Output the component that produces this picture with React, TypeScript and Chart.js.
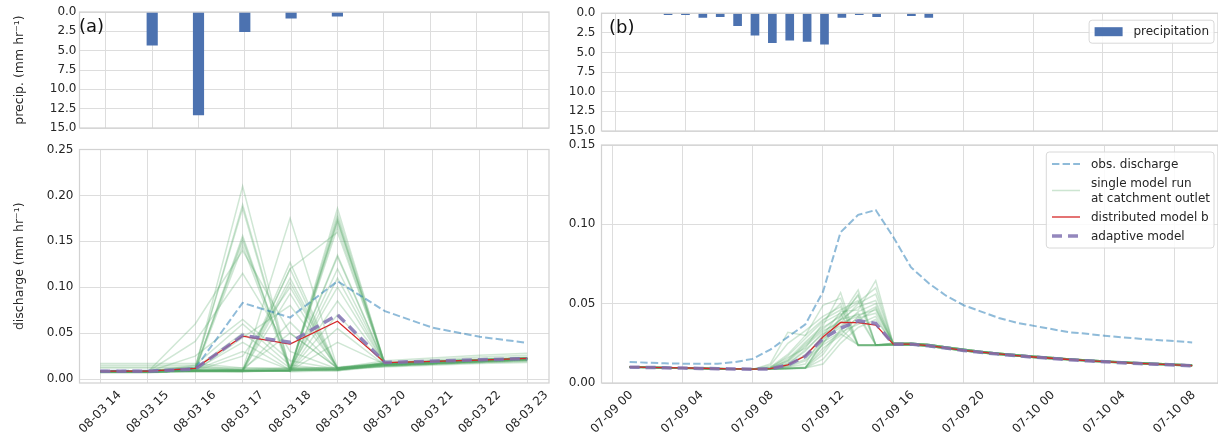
import React, { useEffect, useRef } from "react";
import { Chart, registerables } from "chart.js";

Chart.register(...registerables);

// ---------------- panel (a) data ----------------
const aTickPositions = [0, 1, 2, 3, 4, 5, 6, 7, 8, 9];
const aTickLabels = ["08-03 14", "08-03 15", "08-03 16", "08-03 17", "08-03 18", "08-03 19", "08-03 20", "08-03 21", "08-03 22", "08-03 23"];
const aHours = [0, 1, 2, 3, 4, 5, 6, 7, 8, 9];
const aPrecipPositions = [1, 2, 3, 4, 5];
const aPrecip = [4.3, 13.3, 2.55, 0.8, 0.55];
const aObs = [0.009, 0.009, 0.0115, 0.083, 0.067, 0.1065, 0.074, 0.056, 0.046, 0.0395];
const aDistributed = [0.0087, 0.0087, 0.0116, 0.0467, 0.038, 0.063, 0.0178, 0.0192, 0.0207, 0.0225];
const aAdaptive = [0.0085, 0.0085, 0.011, 0.0475, 0.04, 0.07, 0.018, 0.0195, 0.021, 0.0222];
const aRuns = [
  [0.008, 0.008, 0.012, 0.21, 0.01, 0.01, 0.016, 0.018, 0.02, 0.022],
  [0.008, 0.008, 0.012, 0.19, 0.011, 0.012, 0.017, 0.019, 0.021, 0.023],
  [0.009, 0.009, 0.013, 0.186, 0.009, 0.011, 0.015, 0.017, 0.019, 0.021],
  [0.008, 0.008, 0.01, 0.156, 0.009, 0.01, 0.016, 0.018, 0.02, 0.022],
  [0.008, 0.008, 0.01, 0.153, 0.01, 0.009, 0.015, 0.017, 0.019, 0.021],
  [0.009, 0.009, 0.011, 0.15, 0.012, 0.01, 0.017, 0.019, 0.021, 0.023],
  [0.007, 0.007, 0.009, 0.145, 0.008, 0.009, 0.014, 0.016, 0.018, 0.02],
  [0.008, 0.008, 0.06, 0.14, 0.05, 0.012, 0.018, 0.02, 0.022, 0.024],
  [0.008, 0.008, 0.041, 0.115, 0.03, 0.011, 0.016, 0.018, 0.02, 0.022],
  [0.008, 0.008, 0.025, 0.065, 0.02, 0.011, 0.016, 0.018, 0.02, 0.022],
  [0.008, 0.008, 0.015, 0.06, 0.015, 0.01, 0.015, 0.017, 0.019, 0.021],
  [0.009, 0.009, 0.012, 0.05, 0.012, 0.012, 0.017, 0.019, 0.021, 0.023],
  [0.008, 0.008, 0.01, 0.04, 0.01, 0.01, 0.016, 0.018, 0.02, 0.022],
  [0.008, 0.008, 0.01, 0.03, 0.01, 0.01, 0.015, 0.017, 0.019, 0.021],
  [0.008, 0.008, 0.009, 0.01, 0.175, 0.012, 0.016, 0.018, 0.02, 0.022],
  [0.008, 0.008, 0.009, 0.009, 0.127, 0.011, 0.017, 0.019, 0.021, 0.023],
  [0.008, 0.008, 0.009, 0.009, 0.12, 0.01, 0.015, 0.017, 0.019, 0.021],
  [0.009, 0.009, 0.01, 0.01, 0.11, 0.012, 0.016, 0.018, 0.02, 0.022],
  [0.007, 0.007, 0.008, 0.008, 0.105, 0.011, 0.014, 0.016, 0.018, 0.02],
  [0.008, 0.008, 0.009, 0.025, 0.1, 0.012, 0.016, 0.018, 0.02, 0.022],
  [0.008, 0.008, 0.009, 0.009, 0.093, 0.01, 0.016, 0.018, 0.02, 0.022],
  [0.008, 0.008, 0.009, 0.045, 0.08, 0.013, 0.017, 0.019, 0.021, 0.023],
  [0.008, 0.008, 0.009, 0.009, 0.062, 0.011, 0.016, 0.018, 0.02, 0.022],
  [0.009, 0.009, 0.01, 0.011, 0.05, 0.012, 0.017, 0.019, 0.021, 0.023],
  [0.008, 0.008, 0.009, 0.009, 0.009, 0.186, 0.016, 0.018, 0.02, 0.022],
  [0.008, 0.008, 0.009, 0.009, 0.01, 0.18, 0.017, 0.019, 0.021, 0.023],
  [0.008, 0.008, 0.009, 0.009, 0.009, 0.176, 0.016, 0.018, 0.02, 0.022],
  [0.008, 0.008, 0.009, 0.008, 0.009, 0.174, 0.015, 0.017, 0.019, 0.021],
  [0.009, 0.009, 0.01, 0.01, 0.012, 0.172, 0.016, 0.018, 0.02, 0.022],
  [0.008, 0.008, 0.009, 0.009, 0.009, 0.17, 0.017, 0.019, 0.021, 0.023],
  [0.007, 0.007, 0.008, 0.008, 0.01, 0.165, 0.015, 0.017, 0.019, 0.021],
  [0.008, 0.008, 0.009, 0.009, 0.12, 0.16, 0.016, 0.018, 0.02, 0.022],
  [0.008, 0.008, 0.009, 0.009, 0.009, 0.135, 0.016, 0.018, 0.02, 0.022],
  [0.008, 0.008, 0.009, 0.009, 0.009, 0.133, 0.016, 0.018, 0.02, 0.022],
  [0.008, 0.008, 0.009, 0.009, 0.01, 0.12, 0.017, 0.019, 0.021, 0.023],
  [0.008, 0.008, 0.009, 0.009, 0.009, 0.11, 0.016, 0.018, 0.02, 0.022],
  [0.009, 0.009, 0.01, 0.01, 0.011, 0.1, 0.016, 0.018, 0.02, 0.022],
  [0.008, 0.008, 0.009, 0.009, 0.009, 0.085, 0.017, 0.019, 0.021, 0.023],
  [0.008, 0.008, 0.009, 0.009, 0.009, 0.07, 0.016, 0.018, 0.02, 0.022],
  [0.008, 0.008, 0.009, 0.009, 0.009, 0.055, 0.015, 0.017, 0.019, 0.021],
  [0.008, 0.008, 0.009, 0.009, 0.009, 0.04, 0.016, 0.018, 0.02, 0.022],
  [0.017, 0.017, 0.017, 0.012, 0.011, 0.012, 0.02, 0.023, 0.026, 0.028],
  [0.015, 0.015, 0.015, 0.01, 0.01, 0.011, 0.013, 0.015, 0.017, 0.018],
  [0.013, 0.013, 0.013, 0.009, 0.009, 0.01, 0.018, 0.021, 0.024, 0.026],
  [0.012, 0.012, 0.012, 0.012, 0.012, 0.012, 0.014, 0.016, 0.018, 0.019],
];

// ---------------- panel (b) data ----------------
const bTickPositions = [0, 4, 8, 12, 16, 20, 24, 28, 32];
const bTickLabels = ["07-09 00", "07-09 04", "07-09 08", "07-09 12", "07-09 16", "07-09 20", "07-10 00", "07-10 04", "07-10 08"];
const bPrecipPositions = [3, 4, 5, 6, 7, 8, 9, 10, 11, 12, 13, 14, 15, 17, 18];
const bPrecip = [0.2, 0.2, 0.55, 0.45, 1.6, 2.8, 3.75, 3.45, 3.6, 3.95, 0.55, 0.2, 0.45, 0.3, 0.55];
const bHours = [1, 2, 3, 4, 5, 6, 7, 8, 9, 10, 11, 12, 13, 14, 15, 16, 17, 18, 19, 20, 21, 22, 23, 24, 25, 26, 27, 28, 29, 30, 31, 32, 33];
const bObs = [0.0133, 0.0128, 0.0124, 0.0122, 0.0121, 0.0121, 0.0132, 0.0152, 0.021, 0.029, 0.037, 0.0575, 0.095, 0.106, 0.109, 0.092, 0.073, 0.063, 0.055, 0.049, 0.045, 0.041, 0.038, 0.036, 0.034, 0.032, 0.031, 0.0298, 0.0288, 0.0279, 0.0271, 0.0264, 0.0256];
const bDistributed = [0.0101, 0.0099, 0.0097, 0.0095, 0.0093, 0.0091, 0.0089, 0.0088, 0.009, 0.0114, 0.0172, 0.029, 0.0382, 0.038, 0.0365, 0.0245, 0.0245, 0.0236, 0.0221, 0.0206, 0.0194, 0.0183, 0.0173, 0.0164, 0.0156, 0.0148, 0.0141, 0.0135, 0.0129, 0.0124, 0.0119, 0.0114, 0.011];
const bAdaptive = [0.01, 0.0098, 0.0096, 0.0094, 0.0092, 0.009, 0.0088, 0.0087, 0.0089, 0.0113, 0.0168, 0.028, 0.0345, 0.0392, 0.0376, 0.0245, 0.0245, 0.0235, 0.022, 0.0205, 0.0193, 0.0182, 0.0172, 0.0163, 0.0155, 0.0147, 0.014, 0.0134, 0.0128, 0.0123, 0.0118, 0.0113, 0.0109];
// single runs: hours 1-8, hours 9-15, hours 16-33
const bRunStart = [
  [0.0102, 0.0099, 0.0097, 0.0095, 0.0093, 0.0091, 0.0089, 0.0088],
  [0.0099, 0.0097, 0.0095, 0.0093, 0.0091, 0.0089, 0.0087, 0.0086],
];
const bRunPeak = [
  [0.009, 0.01, 0.012, 0.03, 0.045, 0.046, 0.0645],
  [0.0095, 0.014, 0.025, 0.035, 0.042, 0.0586, 0.024],
  [0.01, 0.018, 0.03, 0.049, 0.0535, 0.0235, 0.0235],
  [0.0092, 0.012, 0.02, 0.032, 0.04, 0.056, 0.024],
  [0.0088, 0.0095, 0.01, 0.025, 0.038, 0.05, 0.056],
  [0.011, 0.025, 0.033, 0.042, 0.048, 0.0236, 0.0236],
  [0.009, 0.011, 0.018, 0.028, 0.035, 0.045, 0.05],
  [0.0089, 0.0092, 0.0096, 0.022, 0.03, 0.042, 0.048],
  [0.01, 0.016, 0.022, 0.038, 0.044, 0.024, 0.024],
  [0.012, 0.032, 0.03, 0.04, 0.046, 0.052, 0.024],
  [0.0088, 0.0092, 0.0095, 0.018, 0.033, 0.041, 0.044],
  [0.009, 0.013, 0.023, 0.033, 0.038, 0.042, 0.024],
  [0.0089, 0.0091, 0.0094, 0.025, 0.042, 0.055, 0.024],
  [0.0093, 0.015, 0.026, 0.036, 0.057, 0.024, 0.024],
  [0.0088, 0.009, 0.0095, 0.015, 0.028, 0.039, 0.047],
  [0.0091, 0.011, 0.017, 0.03, 0.04, 0.048, 0.052],
  [0.009, 0.012, 0.021, 0.031, 0.036, 0.044, 0.024],
  [0.0089, 0.0093, 0.01, 0.02, 0.034, 0.024, 0.024],
  [0.0092, 0.014, 0.024, 0.034, 0.043, 0.051, 0.06],
  [0.0088, 0.009, 0.0093, 0.027, 0.04, 0.043, 0.046],
  [0.009, 0.0105, 0.015, 0.026, 0.032, 0.037, 0.042],
  [0.0094, 0.017, 0.028, 0.039, 0.05, 0.024, 0.024],
  [0.0088, 0.0091, 0.0094, 0.012, 0.025, 0.035, 0.04],
  [0.009, 0.01, 0.014, 0.024, 0.031, 0.024, 0.024],
];
const bRunTail = [
  [0.0245, 0.0246, 0.0237, 0.0222, 0.0207, 0.0195, 0.0184, 0.0174, 0.0165, 0.0157, 0.0149, 0.0142, 0.0136, 0.013, 0.0125, 0.012, 0.0115, 0.0111],
  [0.025, 0.0251, 0.0242, 0.0227, 0.0212, 0.0199, 0.0188, 0.0178, 0.0169, 0.016, 0.0152, 0.0145, 0.0139, 0.0133, 0.0128, 0.0123, 0.0118, 0.0114],
  [0.024, 0.0241, 0.0232, 0.0217, 0.0203, 0.0191, 0.018, 0.017, 0.0161, 0.0153, 0.0146, 0.0139, 0.0133, 0.0127, 0.0122, 0.0117, 0.0112, 0.0108],
];

const precipTicks = [0, 2.5, 5, 7.5, 10, 12.5, 15];
const aDischargeTicks = [0, 0.05, 0.1, 0.15, 0.2, 0.25];
const bDischargeTicks = [0, 0.05, 0.1, 0.15];

// ---------------- styles ----------------
const W = 1218;
const H = 436;
const FONT = '"DejaVu Sans", "Liberation Sans", sans-serif';
const TEXT = "#262626";
const GRID = "#dddddd";
const SPINE = "#d2d2d2";
const BAR = "#4c72b0";
const OBS = "rgba(31,119,180,0.5)";
const RUN = "rgba(85,168,104,0.28)";
const RED = "#d62728";
const PURPLE = "rgba(129,114,178,0.85)";
const OBS_DASH = [7.4, 3.2];
const PURPLE_DASH = [10, 6];

// ---------------- plugins ----------------
const framePlugin = {
  id: "frame",
  afterDraw(chart: any) {
    const a = chart.chartArea;
    const ctx = chart.ctx;
    ctx.save();
    ctx.strokeStyle = SPINE;
    ctx.lineWidth = 1.25;
    ctx.strokeRect(a.left, a.top, a.right - a.left, a.bottom - a.top);
    ctx.restore();
  },
};

const rotTicksPlugin = {
  id: "rotTicks",
  afterDraw(chart: any, _args: any, opts: any) {
    if (!opts || !opts.labels) return;
    const sc = chart.scales.x;
    const ctx = chart.ctx;
    ctx.save();
    ctx.font = `${opts.size}px ${FONT}`;
    ctx.fillStyle = TEXT;
    ctx.textAlign = "center";
    ctx.textBaseline = "middle";
    const c = Math.SQRT1_2;
    opts.positions.forEach((p: number, i: number) => {
      const text = opts.labels[i];
      const x = sc.getPixelForValue(p);
      const w = ctx.measureText(text).width;
      const bh = (w + opts.size * 0.75) * c;
      ctx.save();
      ctx.translate(x, chart.chartArea.bottom + opts.gap + bh / 2);
      ctx.rotate(-Math.PI / 4);
      ctx.fillText(text, 0, 0);
      ctx.restore();
    });
    ctx.restore();
  },
};

const panelLabelPlugin = {
  id: "panelLabel",
  afterDraw(chart: any, _args: any, opts: any) {
    if (!opts || !opts.text) return;
    const a = chart.chartArea;
    const ctx = chart.ctx;
    ctx.save();
    ctx.font = `18px ${FONT}`;
    ctx.fillStyle = "#111";
    ctx.textAlign = "left";
    ctx.textBaseline = "middle";
    ctx.fillText(opts.text, a.left + opts.dx, a.top + opts.dy);
    ctx.restore();
  },
};

const boxLegendPlugin = {
  id: "boxLegend",
  afterDraw(chart: any, _args: any, opts: any) {
    if (!opts || !opts.items) return;
    const ctx = chart.ctx;
    const a = chart.chartArea;
    ctx.save();
    ctx.font = `${opts.size}px ${FONT}`;
    let maxW = 0;
    let total = 0;
    opts.items.forEach((it: any, i: number) => {
      const lines = it.text.split("\n");
      lines.forEach((ln: string) => { maxW = Math.max(maxW, ctx.measureText(ln).width); });
      total += lines.length * opts.lineHeight + (i > 0 ? opts.rowGap : 0);
    });
    const width = opts.textX + maxW + opts.padRight;
    const height = total + opts.pad * 2;
    const right = a.right - opts.marginRight;
    const left = right - width;
    const top = a.top + opts.marginTop;
    const r = 3;
    ctx.beginPath();
    ctx.moveTo(left + r, top);
    ctx.lineTo(right - r, top);
    ctx.arcTo(right, top, right, top + r, r);
    ctx.lineTo(right, top + height - r);
    ctx.arcTo(right, top + height, right - r, top + height, r);
    ctx.lineTo(left + r, top + height);
    ctx.arcTo(left, top + height, left, top + height - r, r);
    ctx.lineTo(left, top + r);
    ctx.arcTo(left, top, left + r, top, r);
    ctx.closePath();
    ctx.fillStyle = "rgba(255,255,255,0.85)";
    ctx.fill();
    ctx.strokeStyle = "#d8d8d8";
    ctx.lineWidth = 1;
    ctx.stroke();
    let y = top + opts.pad;
    opts.items.forEach((it: any) => {
      const lines = it.text.split("\n");
      const rowH = lines.length * opts.lineHeight;
      const cy = y + rowH / 2;
      const sx = left + opts.sampleX;
      if (it.kind === "bar") {
        ctx.fillStyle = it.color;
        ctx.fillRect(sx, cy - 4.5, opts.sampleLen, 9);
      } else {
        ctx.strokeStyle = it.color;
        ctx.lineWidth = it.width;
        ctx.setLineDash(it.dash || []);
        ctx.beginPath();
        ctx.moveTo(sx, cy);
        ctx.lineTo(sx + opts.sampleLen, cy);
        ctx.stroke();
        ctx.setLineDash([]);
      }
      ctx.fillStyle = TEXT;
      ctx.textAlign = "left";
      ctx.textBaseline = "middle";
      lines.forEach((ln: string, k: number) => {
        ctx.fillText(ln, left + opts.textX, y + opts.lineHeight * (k + 0.5) + 0.5);
      });
      y += rowH + opts.rowGap;
    });
    ctx.restore();
  },
};

// ---------------- scale helpers ----------------
function xScale(min: number, max: number, ticks: number[]) {
  return {
    type: "linear",
    min,
    max,
    offset: false,
    bounds: "data",
    afterBuildTicks: (s: any) => { s.ticks = ticks.map((v) => ({ value: v })); },
    ticks: { display: false },
    grid: { color: GRID, lineWidth: 1, drawTicks: false, offset: false },
    border: { display: false },
    afterFit: (s: any) => { s.height = 0; s.paddingLeft = 0; s.paddingRight = 0; },
  };
}

function yScale(o: { min: number; max: number; ticks: number[]; reverse?: boolean; digits: number; pad: number; width: number; title?: string }) {
  return {
    type: "linear",
    min: o.min,
    max: o.max,
    reverse: !!o.reverse,
    bounds: "data",
    afterBuildTicks: (s: any) => { s.ticks = o.ticks.map((v) => ({ value: v })); },
    ticks: {
      autoSkip: false,
      padding: o.pad,
      color: TEXT,
      font: { size: 12, family: FONT },
      callback: (v: any) => Number(v).toFixed(o.digits),
    },
    grid: { color: GRID, lineWidth: 1, drawTicks: false },
    border: { display: false },
    title: o.title
      ? { display: true, text: o.title, color: TEXT, font: { size: 12.5, family: FONT }, padding: { top: 4, bottom: 0 } }
      : { display: false },
    afterFit: (s: any) => { s.width = o.width; },
  };
}

const pts = (xs: number[], ys: number[]) => xs.map((x, i) => ({ x, y: ys[i] }));

function baseOptions(padding: any, scales: any, plugins: any) {
  return {
    responsive: false,
    animation: false,
    events: [],
    layout: { padding, autoPadding: false },
    scales,
    plugins: { legend: { display: false }, tooltip: { enabled: false }, ...plugins },
  };
}

function lineDatasets(hours: number[], adaptive: number[], distributed: number[], obs: number[], runs: number[][]) {
  const common = { pointRadius: 0, tension: 0, fill: false };
  return [
    { label: "adaptive model", data: pts(hours, adaptive), borderColor: PURPLE, borderWidth: 3.5, borderDash: PURPLE_DASH, ...common },
    { label: "distributed model b", data: pts(hours, distributed), borderColor: RED, borderWidth: 1.3, ...common },
    { label: "obs. discharge", data: pts(hours, obs), borderColor: OBS, borderWidth: 2, borderDash: OBS_DASH, ...common },
    ...runs.map((r, i) => ({ label: i === 0 ? "single model run" : "", data: pts(hours, r), borderColor: RUN, borderWidth: 1.5, ...common })),
  ];
}

const bRuns = bRunPeak.map((peak, i) => [...bRunStart[i % 2], ...peak, ...bRunTail[i % 3]]);

// ---------------- chart configs ----------------
const makeTopA = (): any => ({
  type: "bar",
  data: {
    datasets: [{ label: "precipitation", data: pts(aPrecipPositions, aPrecip), backgroundColor: BAR, barThickness: 10.5 }],
  },
  options: baseOptions(
    { left: 8.5, right: W - 549, top: 12, bottom: H - 128 },
    {
      x: xScale(-0.57, 9.57, aTickPositions),
      y: yScale({ min: 0, max: 15, ticks: precipTicks, reverse: true, digits: 1, pad: 3, width: 71, title: "precip. (mm hr⁻¹)" }),
    },
    { panelLabel: { text: "(a)", dx: -0.5, dy: 15 } }
  ),
  plugins: [framePlugin, panelLabelPlugin],
});

const makeBottomA = (): any => ({
  type: "line",
  data: { datasets: lineDatasets(aHours, aAdaptive, aDistributed, aObs, aRuns) },
  options: baseOptions(
    { left: 8.5, right: W - 549, top: 149.5, bottom: H - 383 },
    {
      x: xScale(-0.44, 9.46, aTickPositions),
      y: yScale({ min: -0.0043, max: 0.25, ticks: aDischargeTicks, digits: 2, pad: 6, width: 71, title: "discharge (mm hr⁻¹)" }),
    },
    { rotTicks: { positions: aTickPositions, labels: aTickLabels, size: 12, gap: 7 } }
  ),
  plugins: [framePlugin, rotTicksPlugin],
});

const makeTopB = (): any => ({
  type: "bar",
  data: {
    datasets: [{ label: "precipitation", data: pts(bPrecipPositions, bPrecip), backgroundColor: BAR, barThickness: 8 }],
  },
  options: baseOptions(
    { left: 560, right: 0, top: 12, bottom: H - 131 },
    {
      x: xScale(-0.83, 34.64, bTickPositions),
      y: yScale({ min: 0, max: 15, ticks: precipTicks, reverse: true, digits: 1, pad: 6, width: 41.5 }),
    },
    {
      panelLabel: { text: "(b)", dx: 7.5, dy: 15 },
      boxLegend: {
        items: [{ kind: "bar", color: BAR, text: "precipitation" }],
        size: 12, lineHeight: 15, rowGap: 4, pad: 4, textX: 44.3, padRight: 5, sampleX: 5.5, sampleLen: 28,
        marginRight: 4, marginTop: 7,
      },
    }
  ),
  plugins: [framePlugin, panelLabelPlugin, boxLegendPlugin],
});

const makeBottomB = (): any => ({
  type: "line",
  data: { datasets: lineDatasets(bHours, bAdaptive, bDistributed, bObs, bRuns) },
  options: baseOptions(
    { left: 560, right: 0, top: 145, bottom: H - 383 },
    {
      x: xScale(-0.6, 34.47, bTickPositions),
      y: yScale({ min: 0, max: 0.15, ticks: bDischargeTicks, digits: 2, pad: 6, width: 41.5 }),
    },
    {
      rotTicks: { positions: bTickPositions, labels: bTickLabels, size: 12, gap: 7 },
      boxLegend: {
        items: [
          { kind: "line", color: OBS, width: 2, dash: OBS_DASH, text: "obs. discharge" },
          { kind: "line", color: "rgba(85,168,104,0.3)", width: 1.5, text: "single model run\nat catchment outlet" },
          { kind: "line", color: RED, width: 1.3, text: "distributed model b" },
          { kind: "line", color: PURPLE, width: 3.5, dash: PURPLE_DASH, text: "adaptive model" },
        ],
        size: 12, lineHeight: 15, rowGap: 4, pad: 4.5, textX: 44.7, padRight: 4, sampleX: 5.7, sampleLen: 28,
        marginRight: 4, marginTop: 7,
      },
    }
  ),
  plugins: [framePlugin, rotTicksPlugin, boxLegendPlugin],
});

function ChartCanvas({ make }: { make: () => any }) {
  const ref = useRef<HTMLCanvasElement>(null);
  useEffect(() => {
    if (!ref.current) return;
    const chart = new Chart(ref.current, make());
    return () => chart.destroy();
  }, [make]);
  return (
    <canvas
      ref={ref}
      width={W}
      height={H}
      style={{ position: "absolute", left: 0, top: 0, width: W, height: H }}
    />
  );
}

export default function App() {
  return (
    <div style={{ position: "absolute", left: 0, top: 0, width: W, height: H, background: "#ffffff", overflow: "hidden" }}>
      <ChartCanvas make={makeTopA} />
      <ChartCanvas make={makeBottomA} />
      <ChartCanvas make={makeTopB} />
      <ChartCanvas make={makeBottomB} />
    </div>
  );
}
